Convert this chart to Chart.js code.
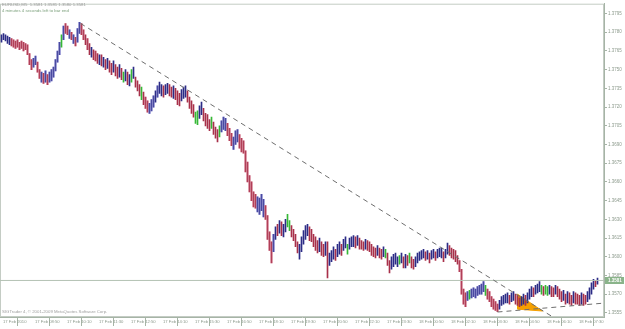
<!DOCTYPE html>
<html>
<head>
<meta charset="utf-8">
<script src="https://cdn.jsdelivr.net/npm/chart.js@4.4.0/dist/chart.umd.min.js"></script>
<style>
html, body { margin: 0; padding: 0; background: #fff; overflow: hidden; }
</style>
</head>
<body>
<canvas id="chart" width="625" height="329"></canvas>
<script>
// EURUSD M5 bars, one entry per bar (high / low)
var highs = [
1.3778,1.3779,1.3778,1.3777,1.3776,1.3775,1.3774,1.3773,1.3774,1.3772,
1.3773,1.3772,1.3771,1.3770,1.3763,1.3758,1.3759,1.3761,1.3756,1.3750,
1.3748,1.3747,1.3749,1.3746,1.3748,1.3750,1.3752,1.3758,1.3765,1.3772,
1.3778,1.3785,1.3787,1.3785,1.3782,1.3780,1.3778,1.3776,1.3783,1.3788,
1.3787,1.3782,1.3778,1.3775,1.3771,1.3768,1.3766,1.3765,1.3763,1.3762,
1.3762,1.3760,1.3758,1.3759,1.3757,1.3755,1.3757,1.3754,1.3752,1.3754,
1.3751,1.3748,1.3750,1.3748,1.3746,1.3750,1.3752,1.3744,1.3741,1.3738,
1.3736,1.3732,1.3728,1.3725,1.3723,1.3726,1.3729,1.3733,1.3737,1.3740,
1.3738,1.3737,1.3738,1.3739,1.3738,1.3736,1.3737,1.3735,1.3733,1.3731,
1.3734,1.3736,1.3737,1.3733,1.3728,1.3725,1.3722,1.3716,1.3717,1.3721,
1.3724,1.3719,1.3715,1.3714,1.3710,1.3712,1.3708,1.3704,1.3702,1.3705,
1.3709,1.3712,1.3711,1.3707,1.3703,1.3699,1.3696,1.3701,1.3702,1.3698,
1.3695,1.3693,1.3685,1.3676,1.3665,1.3660,1.3652,1.3650,1.3648,1.3647,
1.3650,1.3646,1.3641,1.3633,1.3620,1.3612,1.3618,1.3624,1.3626,1.3629,
1.3628,1.3626,1.3630,1.3634,1.3629,1.3625,1.3622,1.3618,1.3612,1.3610,
1.3616,1.3621,1.3625,1.3626,1.3624,1.3622,1.3618,1.3616,1.3613,1.3615,
1.3612,1.3610,1.3612,1.3612,1.3603,1.3605,1.3608,1.3606,1.3610,1.3612,
1.3610,1.3614,1.3616,1.3610,1.3615,1.3616,1.3617,1.3616,1.3617,1.3615,
1.3613,1.3612,1.3614,1.3613,1.3612,1.3610,1.3608,1.3607,1.3609,1.3607,
1.3606,1.3608,1.3606,1.3603,1.3597,1.3600,1.3602,1.3603,1.3600,1.3601,
1.3603,1.3600,1.3602,1.3601,1.3603,1.3600,1.3598,1.3600,1.3603,1.3604,
1.3605,1.3606,1.3604,1.3605,1.3603,1.3605,1.3606,1.3604,1.3606,1.3607,
1.3607,1.3604,1.3606,1.3611,1.3609,1.3607,1.3606,1.3605,1.3601,1.3597,
1.3590,1.3574,1.3571,1.3572,1.3573,1.3574,1.3575,1.3574,1.3576,1.3577,
1.3578,1.3580,1.3577,1.3574,1.3572,1.3568,1.3566,1.3564,1.3562,1.3565,
1.3568,1.3569,1.3570,1.3571,1.3569,1.3571,1.3572,1.3570,1.3569,1.3567,
1.3568,1.3570,1.3569,1.3571,1.3574,1.3576,1.3575,1.3577,1.3578,1.3580,
1.3577,1.3576,1.3577,1.3576,1.3577,1.3576,1.3575,1.3577,1.3576,1.3574,
1.3572,1.3573,1.3570,1.3572,1.3571,1.3569,1.3572,1.3571,1.3570,1.3569,
1.3571,1.3570,1.3569,1.3572,1.3575,1.3579,1.3582,1.3581,1.3583
];
var lows = [
1.3772,1.3774,1.3773,1.3771,1.3770,1.3769,1.3768,1.3767,1.3768,1.3766,
1.3767,1.3765,1.3766,1.3762,1.3754,1.3750,1.3752,1.3754,1.3748,1.3743,
1.3740,1.3739,1.3740,1.3738,1.3740,1.3741,1.3744,1.3749,1.3756,1.3762,
1.3768,1.3774,1.3779,1.3778,1.3775,1.3774,1.3771,1.3769,1.3772,1.3779,
1.3778,1.3774,1.3770,1.3766,1.3762,1.3760,1.3758,1.3757,1.3755,1.3754,
1.3753,1.3752,1.3750,1.3751,1.3748,1.3746,1.3748,1.3745,1.3743,1.3744,
1.3742,1.3740,1.3741,1.3738,1.3737,1.3740,1.3743,1.3736,1.3733,1.3729,
1.3726,1.3722,1.3719,1.3716,1.3715,1.3717,1.3720,1.3724,1.3728,1.3731,
1.3729,1.3728,1.3730,1.3731,1.3729,1.3728,1.3727,1.3726,1.3722,1.3721,
1.3725,1.3727,1.3728,1.3724,1.3719,1.3715,1.3712,1.3707,1.3706,1.3711,
1.3714,1.3709,1.3705,1.3703,1.3701,1.3703,1.3698,1.3695,1.3692,1.3696,
1.3700,1.3702,1.3701,1.3697,1.3693,1.3689,1.3686,1.3690,1.3692,1.3687,
1.3684,1.3683,1.3668,1.3660,1.3652,1.3645,1.3640,1.3639,1.3636,1.3634,
1.3637,1.3632,1.3630,1.3614,1.3605,1.3595,1.3604,1.3614,1.3617,1.3619,
1.3617,1.3616,1.3620,1.3624,1.3621,1.3616,1.3613,1.3608,1.3603,1.3598,
1.3604,1.3610,1.3614,1.3617,1.3613,1.3612,1.3608,1.3605,1.3603,1.3604,
1.3601,1.3600,1.3601,1.3583,1.3593,1.3596,1.3598,1.3597,1.3600,1.3602,
1.3601,1.3605,1.3607,1.3602,1.3606,1.3608,1.3608,1.3607,1.3609,1.3606,
1.3606,1.3605,1.3606,1.3605,1.3604,1.3601,1.3600,1.3599,1.3601,1.3599,
1.3598,1.3600,1.3599,1.3593,1.3587,1.3590,1.3592,1.3594,1.3592,1.3594,
1.3595,1.3591,1.3591,1.3593,1.3595,1.3591,1.3590,1.3592,1.3595,1.3597,
1.3598,1.3599,1.3597,1.3598,1.3595,1.3598,1.3599,1.3597,1.3599,1.3600,
1.3599,1.3596,1.3599,1.3602,1.3601,1.3599,1.3598,1.3596,1.3594,1.3588,
1.3570,1.3562,1.3560,1.3565,1.3566,1.3567,1.3568,1.3567,1.3569,1.3570,
1.3570,1.3572,1.3569,1.3566,1.3564,1.3560,1.3558,1.3557,1.3556,1.3558,
1.3561,1.3562,1.3563,1.3563,1.3562,1.3564,1.3565,1.3562,1.3561,1.3560,
1.3561,1.3562,1.3561,1.3563,1.3566,1.3568,1.3568,1.3570,1.3571,1.3572,
1.3570,1.3569,1.3570,1.3569,1.3570,1.3568,1.3568,1.3570,1.3568,1.3566,
1.3564,1.3565,1.3562,1.3563,1.3562,1.3561,1.3563,1.3562,1.3562,1.3561,
1.3562,1.3561,1.3562,1.3564,1.3566,1.3570,1.3574,1.3576,1.3578
];
// r = down bar, b = up bar, g = green bar, capitals get a light halo
var barKinds =
  "bbbbbRRRRR" + "RRRRRRBBRR" + "BRBRBBBBBB" + "gBRRBRBRBB" + "RRrRrbrRrb" +
  "rbrbrrbrrb" + "rgbrbgbrrr" + "grRRBBBbBb" + "brbbrrbrrr" + "bbbrrrrggb" +
  "brrrrgrrrg" + "BBBRRRBBBR" + "RRRRRRRRBB" + "BBRRRRBbrb" + "rbbggrrrrb" +
  "bbbbrrrrrb" + "rrbrbbbrbb" + "rbbgbbbrbr" + "rrbrrrrrbr" + "rbgrrbbbbg" +
  "brbrgrrbbb" + "bbrbrbbrbb" + "brbbrrrrrR" + "RRRBgBBBBB" + "BBgRRRRRRb" +
  "bbbbrbbrrr" + "bbrbbbrbbb" + "grggbrrbrr" + "rbrbrrbrrr" + "brrbbbbrb";

var timeLabels = ['17 Feb 2010', '17 Feb 08:50', '17 Feb 10:10', '17 Feb 11:30', '17 Feb 12:50',
  '17 Feb 14:10', '17 Feb 15:30', '17 Feb 16:50', '17 Feb 18:10', '17 Feb 19:30',
  '17 Feb 20:50', '17 Feb 22:10', '17 Feb 23:30', '18 Feb 00:50', '18 Feb 02:10',
  '18 Feb 03:30', '18 Feb 04:50', '18 Feb 06:10', '18 Feb 07:30'];
var priceTicks = [1.3555, 1.3570, 1.3585, 1.3600, 1.3615, 1.3630, 1.3645, 1.3660, 1.3675,
  1.3690, 1.3705, 1.3720, 1.3735, 1.3750, 1.3765, 1.3780, 1.3795];
var bid = 1.3581;
var lastQuote = ['1.3581', '1.3581', '1.3580', '1.3581'];

// drawn objects (bar index, price)
var trendDown = [{x: 39.5, y: 1.37871}, {x: 278, y: 1.35494}];
var trendUp = [{x: 248, y: 1.35557}, {x: 301, y: 1.35628}];
var triangle = [{x: 258, y: 1.3570}, {x: 270.5, y: 1.35565}, {x: 258, y: 1.3558}, {x: 258, y: 1.3570}];

var BARS_PER_LABEL = 16;

var kindColor = { r: '#a8304a', R: '#b04058', b: '#2c2c86', B: '#4a4aa0', g: '#36b836' };
var haloColor = { R: '#f4c4d0', B: '#c8c8f2' };

var barData = [];
var wickColors = [];
var haloColors = [];
for (var i = 0; i < highs.length; i++) {
  barData.push({x: i, y: [lows[i], highs[i]]});
  var k = barKinds.charAt(i);
  wickColors.push(kindColor[k]);
  haloColors.push(haloColor[k] || 'rgba(0,0,0,0)');
}

Chart.defaults.font.family = 'Liberation Sans';
Chart.defaults.font.size = 4.2;

var axisColor = '#a6b4a6';
var textColor = '#8c9a8c';

var extras = {
  id: 'extras',
  beforeDatasetsDraw: function(chart) {
    // window frame round the plot
    var c = chart.ctx;
    var a = chart.chartArea;
    c.save();
    c.strokeStyle = '#c4ccc4';
    c.lineWidth = 1;
    c.strokeRect(a.left + 0.5, a.top + 0.5, a.right - a.left - 1, a.bottom - a.top - 1);
    c.restore();
  },
  afterDraw: function(chart) {
    var c = chart.ctx;
    var a = chart.chartArea;
    var y = chart.scales.y.getPixelForValue(bid);
    c.save();
    // current price box
    c.fillStyle = '#8ab48a';
    c.fillRect(a.right + 1, Math.round(y) - 3, 19, 7);
    c.fillStyle = '#ffffff';
    c.font = 'bold 4.5px Liberation Sans';
    c.textBaseline = 'middle';
    c.fillText(bid.toFixed(4), a.right + 4, Math.round(y) + 0.5);
    // header
    c.font = '4.3px Liberation Sans';
    c.textBaseline = 'top';
    c.fillStyle = '#9a9a9a';
    c.fillText('EURUSD,M5  ' + lastQuote.join(' '), 2, 3);
    c.fillStyle = '#7ca07c';
    c.fillText('4 minutes 4 seconds left to bar end', 2, 9);
    // copyright
    c.fillStyle = '#a0a0a0';
    c.fillText('SIGTrader 4, \u00a9 2001-2009 MetaQuotes Software Corp.', 2, a.bottom - 7);
    c.restore();
  }
};

new Chart(document.getElementById('chart'), {
  type: 'bar',
  data: {
    datasets: [
      { type: 'line', data: triangle, fill: 'shape', backgroundColor: '#f5a000', borderColor: '#f5a000',
        borderWidth: 1, pointRadius: 0, tension: 0, order: 6 },
      { data: barData, backgroundColor: haloColors, barThickness: 2, grouped: false, order: 5 },
      { data: barData, backgroundColor: wickColors, barThickness: 1, grouped: false, order: 4 },
      { type: 'line', data: [{x: -1, y: bid}, {x: 302, y: bid}], borderColor: '#b4c2b4', borderWidth: 1,
        pointRadius: 0, fill: false, order: 3 },
      { type: 'line', data: trendDown, borderColor: '#6e6e6e', borderWidth: 1, borderDash: [5, 4],
        pointRadius: 0, fill: false, order: 2 },
      { type: 'line', data: trendUp, borderColor: '#6e6e6e', borderWidth: 1, borderDash: [5, 4],
        pointRadius: 0, fill: false, order: 1 }
    ]
  },
  options: {
    responsive: false,
    animation: false,
    devicePixelRatio: 1,
    layout: { padding: 0 },
    plugins: { legend: { display: false }, tooltip: { enabled: false } },
    scales: {
      x: {
        type: 'linear',
        min: -0.75,
        max: 301.25,
        offset: false,
        border: { color: axisColor },
        grid: { drawOnChartArea: false, color: axisColor, tickLength: 9 },
        afterBuildTicks: function(scale) {
          scale.ticks = timeLabels.map(function(t, k) { return {value: k * BARS_PER_LABEL}; });
        },
        afterFit: function(scale) { scale.height = 12; },
        ticks: {
          autoSkip: false, maxRotation: 0, align: 'start', padding: -7, labelOffset: 1.5,
          color: textColor,
          callback: function(v) { return timeLabels[Math.round(v / BARS_PER_LABEL)]; }
        }
      },
      y: {
        position: 'right',
        min: 1.35517,
        max: 1.38029,
        border: { color: axisColor },
        grid: { drawOnChartArea: false, color: axisColor, tickLength: 3 },
        afterBuildTicks: function(scale) {
          scale.ticks = priceTicks.map(function(v) { return {value: v}; });
        },
        afterFit: function(scale) { scale.width = 21; },
        ticks: {
          padding: 1, color: textColor, font: { size: 4.5 },
          callback: function(v) { return v.toFixed(4); }
        }
      }
    }
  },
  plugins: [extras]
});
</script>
</body>
</html>
